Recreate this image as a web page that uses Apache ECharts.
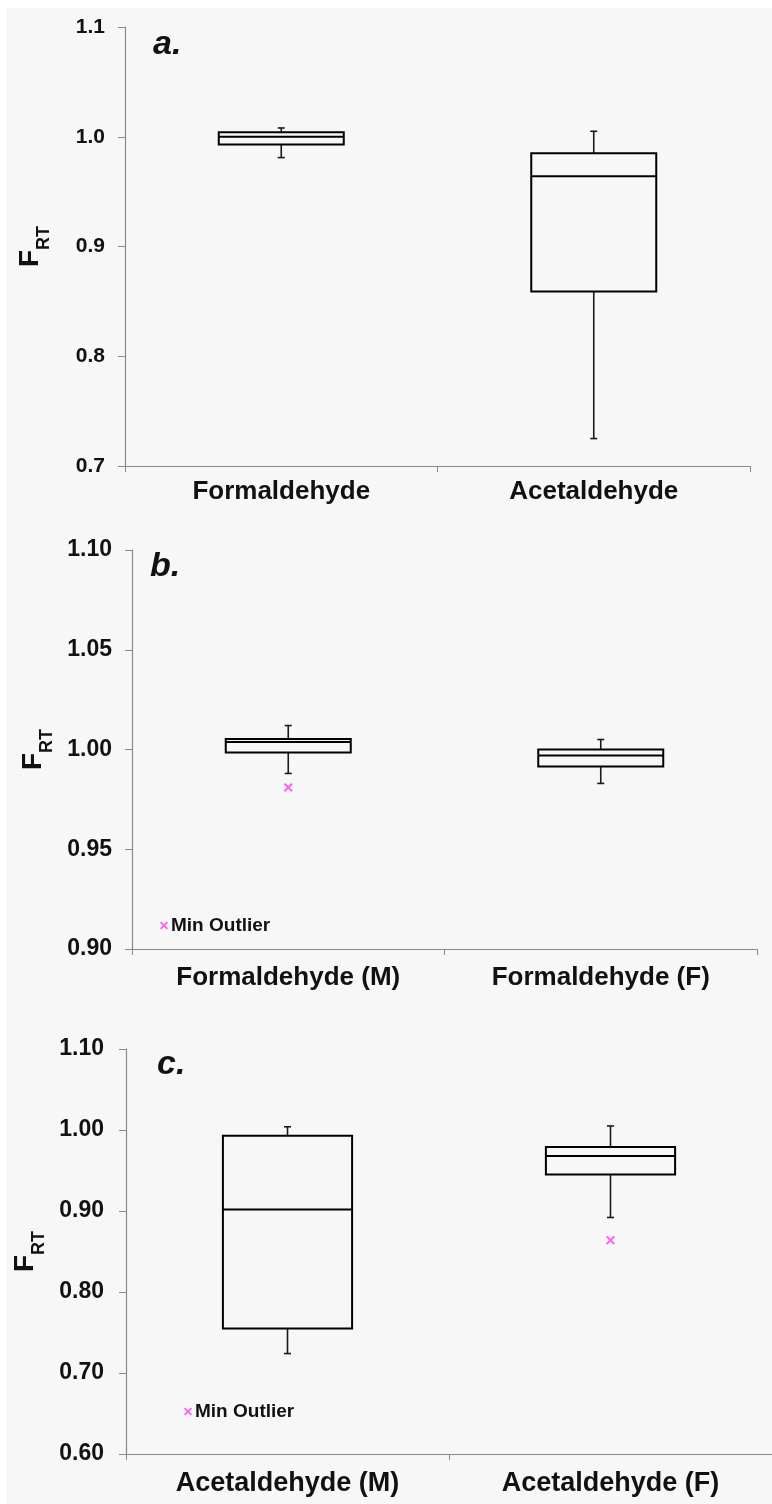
<!DOCTYPE html>
<html>
<head>
<meta charset="utf-8">
<script src="https://cdn.jsdelivr.net/npm/echarts@6/dist/echarts.min.js"></script>
<style>
html,body{margin:0;padding:0;background:#ffffff;}
#chart{width:772px;height:1504px;
  background: linear-gradient(to bottom, #ffffff 0px, #ffffff 8px, rgba(255,255,255,0) 8px),
              linear-gradient(to right, #ffffff 0px, #ffffff 6px, #f7f7f7 6px);}
</style>
</head>
<body>
<div id="chart"></div>
<script>
// ---- data ----
const catsA = ['Formaldehyde', 'Acetaldehyde'];
// [min, Q1, median, Q3, max]
const boxA = [
  [0.981, 0.993, 1.000, 1.004, 1.008],
  [0.725, 0.859, 0.964, 0.985, 1.005]
];
const ticksA = { min: 0.7, max: 1.1, interval: 0.1, decimals: 1 };

const catsB = ['Formaldehyde (M)', 'Formaldehyde (F)'];
const boxB = [
  [0.988, 0.9985, 1.0037, 1.0053, 1.012],
  [0.983, 0.9915, 0.997, 1.000, 1.005]
];
const outliersB = [['Formaldehyde (M)', 0.981]];
const ticksB = { min: 0.90, max: 1.10, interval: 0.05, decimals: 2 };

const catsC = ['Acetaldehyde (M)', 'Acetaldehyde (F)'];
const boxC = [
  [0.724, 0.755, 0.902, 0.993, 1.004],
  [0.892, 0.945, 0.968, 0.979, 1.005]
];
const outliersC = [['Acetaldehyde (F)', 0.864]];
const ticksC = { min: 0.60, max: 1.10, interval: 0.10, decimals: 2 };

const panelLabels = ['a.', 'b.', 'c.'];
const yName = 'F_RT';
const outlierName = 'Min Outlier';

// ---- rendering ----
const FONT = "'Liberation Sans', Arial, sans-serif";
const xMark = 'path://M0,1.6 L1.6,0 L5,3.4 L8.4,0 L10,1.6 L6.6,5 L10,8.4 L8.4,10 L5,6.6 L1.6,10 L0,8.4 L3.4,5 Z';

function renderBox(params, api) {
  const xi = api.value(0);
  const pMin = api.coord([xi, api.value(1)]);
  const pQ1 = api.coord([xi, api.value(2)]);
  const pMed = api.coord([xi, api.value(3)]);
  const pQ3 = api.coord([xi, api.value(4)]);
  const pMax = api.coord([xi, api.value(5)]);
  const bw = api.size([1, 0])[0] * 0.4;
  const cx = pMed[0];
  const x0 = cx - bw / 2, x1 = cx + bw / 2;
  const cap = 3.5;
  const wStyle = { stroke: '#1a1a1a', lineWidth: 1.6 };
  const bStyle = { stroke: '#000', lineWidth: 2, fill: 'rgba(255,255,255,0)' };
  return {
    type: 'group',
    children: [
      { type: 'line', shape: { x1: cx, y1: pMax[1], x2: cx, y2: pQ3[1] }, style: wStyle },
      { type: 'line', shape: { x1: cx - cap, y1: pMax[1], x2: cx + cap, y2: pMax[1] }, style: wStyle },
      { type: 'line', shape: { x1: cx, y1: pQ1[1], x2: cx, y2: pMin[1] }, style: wStyle },
      { type: 'line', shape: { x1: cx - cap, y1: pMin[1], x2: cx + cap, y2: pMin[1] }, style: wStyle },
      { type: 'rect', shape: { x: x0, y: pQ3[1], width: bw, height: pQ1[1] - pQ3[1] }, style: bStyle },
      { type: 'line', shape: { x1: x0, y1: pMed[1], x2: x1, y2: pMed[1] }, style: { stroke: '#000', lineWidth: 2 } }
    ]
  };
}

const grids = [
  { left: 125, top: 27, width: 625, height: 439 },
  { left: 132, top: 550, width: 625, height: 399 },
  { left: 126, top: 1049, width: 652, height: 405 }
];
const cats = [catsA, catsB, catsC];
const boxes = [boxA, boxB, boxC];
const ticks = [ticksA, ticksB, ticksC];
const tickFont = [21, 23, 23];
const tickMargin = [20, 20, 22];
const catFont = [26, 26, 27];
const catMargin = [13, 16, 16];
const nameGaps = [80, 84, 82];

const xAxes = [], yAxes = [], series = [];
for (let i = 0; i < 3; i++) {
  xAxes.push({
    type: 'category', gridIndex: i, data: cats[i], boundaryGap: true,
    axisLine: { lineStyle: { color: '#8a8a8a', width: 1.2 } },
    axisTick: { show: true, length: 6, lineStyle: { color: '#8a8a8a' } },
    axisLabel: { color: '#111', fontFamily: FONT, fontWeight: 'bold', fontSize: catFont[i], margin: catMargin[i] },
    splitLine: { show: false }
  });
  const t = ticks[i];
  yAxes.push({
    type: 'value', gridIndex: i, min: t.min, max: t.max, interval: t.interval,
    axisLine: { show: true, lineStyle: { color: '#8a8a8a', width: 1.2 } },
    axisTick: { show: true, length: 7, lineStyle: { color: '#8a8a8a' } },
    axisLabel: { color: '#111', fontFamily: FONT, fontWeight: 'bold', fontSize: tickFont[i], margin: tickMargin[i],
      formatter: (v) => v.toFixed(t.decimals) },
    splitLine: { show: false },
    name: '{f|' + yName.split('_')[0] + '}{s|' + yName.split('_')[1] + '}',
    nameLocation: 'middle', nameRotate: 90, nameGap: nameGaps[i],
    nameTextStyle: {
      rich: {
        f: { fontFamily: FONT, fontWeight: 'bold', fontSize: 28, color: '#111', lineHeight: 30 },
        s: { fontFamily: FONT, fontWeight: 'bold', fontSize: 18, color: '#111', lineHeight: 30, verticalAlign: 'bottom', padding: [0, 0, -8, 0] }
      }
    }
  });
  series.push({
    type: 'custom', xAxisIndex: i, yAxisIndex: i,
    renderItem: renderBox,
    encode: { x: 0, y: [1, 2, 3, 4, 5] },
    data: boxes[i].map((b, k) => [k].concat(b)),
    silent: true, z: 3
  });
}
const outlierSets = [null, outliersB, outliersC];
for (let i = 1; i < 3; i++) {
  series.push({
    type: 'scatter', name: outlierName, xAxisIndex: i, yAxisIndex: i,
    data: outlierSets[i], symbol: xMark, symbolSize: 9,
    itemStyle: { color: '#ff3bf0' }, z: 4
  });
}

const legendCommon = {
  data: [{ name: outlierName, icon: xMark }], orient: 'horizontal',
  itemWidth: 8, itemHeight: 8, itemGap: 4, selectedMode: false,
  textStyle: { fontFamily: FONT, fontWeight: 'bold', fontSize: 19, color: '#111', padding: [0, 0, 0, -2] }
};

const labelPos = [[153, 66], [150, 588], [157, 1086]];
const graphic = panelLabels.map((s, i) => ({
  type: 'text', left: labelPos[i][0], top: labelPos[i][1] - 38,
  style: { text: s, fontFamily: FONT, fontWeight: 'bold', fontStyle: 'italic', fontSize: 34, fill: '#111' }
}));

const chart = echarts.init(document.getElementById('chart'), null, { renderer: 'canvas' });
chart.setOption({
  backgroundColor: 'transparent',
  animation: false,
  grid: grids,
  xAxis: xAxes,
  yAxis: yAxes,
  series: series,
  legend: [
    Object.assign({ left: 155, top: 911 }, legendCommon),
    Object.assign({ left: 179, top: 1397 }, legendCommon)
  ],
  graphic: graphic
});
</script>
</body>
</html>
